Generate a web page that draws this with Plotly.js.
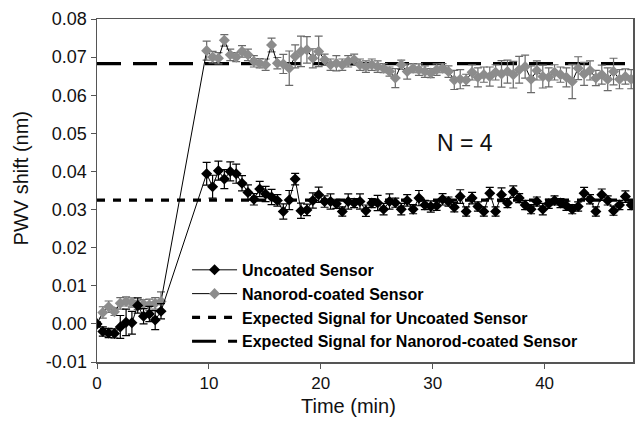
<!DOCTYPE html>
<html>
<head>
<meta charset="utf-8">
<script src="https://cdn.plot.ly/plotly-3.0.1.min.js"></script>
<style>html,body{margin:0;padding:0;background:#fff;}#chart{width:635px;height:421px;}</style>
</head>
<body>
<div id="chart"></div>
<script>
// ---- Data ----
const preTime = [0, 0.52, 1.04, 1.56, 2.08, 2.60, 3.12, 3.64, 4.16, 4.68, 5.20, 5.72];
const postTime = [9.80, 10.33, 10.85, 11.38, 11.91, 12.44, 12.96, 13.49, 14.02, 14.54,
  15.07, 15.60, 16.12, 16.65, 17.18, 17.71, 18.23, 18.76, 19.29, 19.81,
  20.34, 20.87, 21.39, 21.92, 22.45, 22.98, 23.50, 24.03, 24.56, 25.08,
  25.61, 26.14, 26.66, 27.19, 27.72, 28.25, 28.77, 29.30, 29.83, 30.35,
  30.88, 31.41, 31.93, 32.46, 32.99, 33.52, 34.04, 34.57, 35.10, 35.62,
  36.15, 36.68, 37.20, 37.73, 38.26, 38.79, 39.31, 39.84, 40.37, 40.89,
  41.42, 41.95, 42.47, 43.00, 43.53, 44.06, 44.58, 45.11, 45.64, 46.16,
  46.69, 47.22, 47.74];

const uncoatedPre = [0.0000, -0.0020, -0.0024, -0.0025, -0.0008, 0.0004, 0.0003, 0.0048, 0.0020, 0.0026, 0.0010, 0.0033];
const uncoatedPost = [0.0394, 0.0360, 0.0402, 0.0380, 0.0400, 0.0394, 0.0369, 0.0345, 0.0327, 0.0354,
  0.0341, 0.0333, 0.0324, 0.0295, 0.0325, 0.0380, 0.0297, 0.0299, 0.0324, 0.0339,
  0.0321, 0.0321, 0.0315, 0.0295, 0.0321, 0.0317, 0.0321, 0.0297, 0.0317, 0.0317,
  0.0301, 0.0321, 0.0318, 0.0301, 0.0324, 0.0301, 0.0330, 0.0312, 0.0308, 0.0310,
  0.0327, 0.0321, 0.0306, 0.0334, 0.0295, 0.0330,
  0.0308, 0.0295, 0.0343, 0.0295, 0.0339, 0.0317, 0.0347, 0.0330, 0.0312, 0.0301,
  0.0321, 0.0301, 0.0315, 0.0324, 0.0317, 0.0310, 0.0301, 0.0308, 0.0343, 0.0327,
  0.0295, 0.0339, 0.0324, 0.0297, 0.0312, 0.0334, 0.0312];
const uncoatedErrPre = [0.0005, 0.0012, 0.0012, 0.0012, 0.0030, 0.0035, 0.0030, 0.0020, 0.0020, 0.0020, 0.0025, 0.0020];
const uncoatedErrPost = [0.0030, 0.0030, 0.0025, 0.0025, 0.0025, 0.0025, 0.0020, 0.0020, 0.0015, 0.0020,
  0.0020, 0.0020, 0.0015, 0.0020, 0.0025, 0.0015, 0.0020, 0.0015, 0.0020, 0.0020,
  0.0015, 0.0020, 0.0012, 0.0012, 0.0020, 0.0012, 0.0020, 0.0015, 0.0012, 0.0020,
  0.0015, 0.0020, 0.0012, 0.0015, 0.0015, 0.0012, 0.0020, 0.0012, 0.0015, 0.0012,
  0.0015, 0.0012, 0.0012, 0.0018, 0.0012, 0.0015,
  0.0012, 0.0012, 0.0015, 0.0012, 0.0018, 0.0012, 0.0015, 0.0012, 0.0012, 0.0012,
  0.0012, 0.0015, 0.0012, 0.0012, 0.0012, 0.0012, 0.0012, 0.0012, 0.0015, 0.0012,
  0.0012, 0.0015, 0.0012, 0.0012, 0.0012, 0.0015, 0.0012];

const nanorodPre = [0.0000, 0.0030, 0.0045, 0.0032, 0.0054, 0.0059, 0.0056, 0.0050, 0.0052, 0.0050, 0.0054, 0.0059];
const nanorodPost = [0.0717, 0.0700, 0.0697, 0.0744, 0.0706, 0.0700, 0.0715, 0.0706, 0.0689, 0.0684, 0.0680,
  0.0732, 0.0684, 0.0682, 0.0671, 0.0702, 0.0715, 0.0719, 0.0697, 0.0715, 0.0693,
  0.0680, 0.0684, 0.0680, 0.0689, 0.0693, 0.0680, 0.0675, 0.0680, 0.0675, 0.0671,
  0.0662, 0.0645, 0.0680, 0.0662, 0.0671, 0.0667, 0.0662, 0.0658, 0.0667, 0.0671, 0.0662,
  0.0640, 0.0642, 0.0640, 0.0660, 0.0647, 0.0654, 0.0649, 0.0660, 0.0656, 0.0662,
  0.0654, 0.0667, 0.0675, 0.0642, 0.0665, 0.0649, 0.0647, 0.0660, 0.0654, 0.0647,
  0.0636, 0.0671, 0.0656, 0.0665, 0.0645, 0.0654, 0.0642, 0.0662, 0.0642, 0.0649, 0.0642];
const nanorodErrPre = [0.0005, 0.0015, 0.0015, 0.0010, 0.0015, 0.0012, 0.0012, 0.0012, 0.0012, 0.0015, 0.0015, 0.0025];
const nanorodErrPost = [0.0025, 0.0015, 0.0015, 0.0015, 0.0015, 0.0012, 0.0015, 0.0015, 0.0015, 0.0012, 0.0015,
  0.0018, 0.0015, 0.0025, 0.0045, 0.0030, 0.0040, 0.0035, 0.0025, 0.0040, 0.0015,
  0.0015, 0.0020, 0.0015, 0.0015, 0.0015, 0.0015, 0.0015, 0.0015, 0.0015, 0.0012,
  0.0012, 0.0025, 0.0012, 0.0020, 0.0012, 0.0015, 0.0015, 0.0012, 0.0015, 0.0012, 0.0015,
  0.0025, 0.0025, 0.0015, 0.0020, 0.0025, 0.0020, 0.0025, 0.0020, 0.0035, 0.0030,
  0.0035, 0.0035, 0.0030, 0.0035, 0.0025, 0.0030, 0.0025, 0.0020, 0.0020, 0.0025,
  0.0045, 0.0030, 0.0030, 0.0025, 0.0020, 0.0025, 0.0030, 0.0035, 0.0025, 0.0020, 0.0025];

const expectedUncoated = 0.0325;
const expectedNanorod = 0.0683;
const xSpan = [0, 47.9];

const seriesNames = ["Uncoated Sensor", "Nanorod-coated Sensor",
  "Expected Signal for Uncoated Sensor", "Expected Signal for Nanorod-coated Sensor"];
const annotationText = "N = 4";
const xTitle = "Time (min)";
const yTitle = "PWV shift (nm)";
const xTickVals = [0, 10, 20, 30, 40];
const xTickText = ["0", "10", "20", "30", "40"];
const yTickVals = [-0.01, 0, 0.01, 0.02, 0.03, 0.04, 0.05, 0.06, 0.07, 0.08];
const yTickText = ["-0.01", "0.00", "0.01", "0.02", "0.03", "0.04", "0.05", "0.06", "0.07", "0.08"];

const time = preTime.concat(postTime);
const uncoated = uncoatedPre.concat(uncoatedPost);
const uncoatedErr = uncoatedErrPre.concat(uncoatedErrPost);
const nanorod = nanorodPre.concat(nanorodPost);
const nanorodErr = nanorodErrPre.concat(nanorodErrPost);

const FONT = "Liberation Sans, Arial, sans-serif";
const legendFont = {family: FONT, size: 16, color: "#000", weight: "bold"};

const traces = [
  {
    x: xSpan, y: [expectedNanorod, expectedNanorod], mode: "lines",
    name: seriesNames[3], legendrank: 4, legendgroup: "g4",
    line: {color: "#000", width: 3.2, dash: "24px,12px"}, hoverinfo: "skip"
  },
  {
    x: xSpan, y: [expectedUncoated, expectedUncoated], mode: "lines",
    name: seriesNames[2], legendrank: 3, legendgroup: "g3",
    line: {color: "#000", width: 3.2, dash: "8px,8px"}, hoverinfo: "skip"
  },
  {
    x: time, y: nanorod, mode: "lines+markers",
    name: seriesNames[1], legendrank: 2, legendgroup: "g2",
    line: {color: "#000", width: 1},
    marker: {symbol: "diamond", size: 8.5, color: "#8c8c8c", line: {width: 0}},
    error_y: {type: "data", array: nanorodErr, visible: true, color: "#6a6a6a", thickness: 1.2, width: 4}
  },
  {
    x: time, y: uncoated, mode: "lines+markers",
    name: seriesNames[0], legendrank: 1, legendgroup: "g1",
    line: {color: "#000", width: 1},
    marker: {symbol: "diamond", size: 8.5, color: "#000", line: {width: 0}},
    error_y: {type: "data", array: uncoatedErr, visible: true, color: "#000", thickness: 1.2, width: 4}
  }
];

const yAxisFont = {family: FONT, size: 18, color: "#111"};
const xAxisFont = {family: FONT, size: 17, color: "#111"};
const titleFont = {family: FONT, size: 20, color: "#111"};

const layout = {
  width: 635, height: 421,
  margin: {l: 97, r: 2, t: 19, b: 59, pad: 0},
  paper_bgcolor: "#fff", plot_bgcolor: "#fff",
  showlegend: true,
  legend: {
    x: 0.168, y: 0.318, xanchor: "left", yanchor: "top",
    bgcolor: "rgba(0,0,0,0)", borderwidth: 0, itemwidth: 45,
    font: legendFont, traceorder: "grouped", tracegroupgap: 0
  },
  xaxis: {
    range: [0, 47.9], showgrid: false, zeroline: false,
    showline: true, linecolor: "#555", linewidth: 1.5, mirror: true,
    ticks: "outside", ticklen: 5, tickcolor: "#555", tickwidth: 1,
    tickmode: "array", tickvals: xTickVals, ticktext: xTickText,
    tickfont: xAxisFont
  },
  yaxis: {
    range: [-0.01, 0.08], showgrid: false, zeroline: false,
    showline: true, linecolor: "#555", linewidth: 1.5, mirror: true,
    ticks: "outside", ticklen: 5, tickcolor: "#555", tickwidth: 1,
    tickmode: "array", tickvals: yTickVals, ticktext: yTickText,
    tickfont: yAxisFont
  },
  annotations: [
    {
      x: 32.9, y: 0.0475, xref: "x", yref: "y", text: annotationText, showarrow: false,
      font: {family: FONT, size: 23, color: "#111"}
    },
    {
      x: 0.47, y: -0.127, xref: "paper", yref: "paper", xanchor: "center", yanchor: "middle",
      text: xTitle, showarrow: false, font: titleFont
    },
    {
      x: -0.14, y: 0.535, xref: "paper", yref: "paper", xanchor: "center", yanchor: "middle",
      text: yTitle, textangle: -90, showarrow: false, font: titleFont
    }
  ]
};

Plotly.newPlot("chart", traces, layout, {staticPlot: true, displayModeBar: false});
</script>
</body>
</html>
